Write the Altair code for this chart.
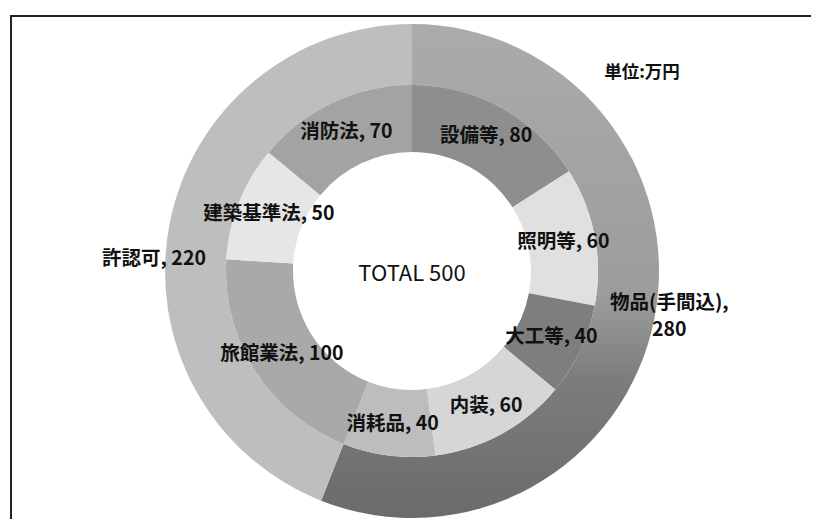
import altair as alt
import pandas as pd

# ---- data ----
outer_cats = ["物品(手間込)", "許認可"]
outer_vals = [280, 220]
inner_cats = ["設備等", "照明等", "大工等", "内装", "消耗品", "旅館業法", "建築基準法", "消防法"]
inner_vals = [80, 60, 40, 60, 40, 100, 50, 70]
total_label = "TOTAL 500"
unit_label = "単位:万円"

# ---- styles ----
inner_colors = ["#8e8e8e", "#e0e0e0", "#7e7e7e", "#d6d6d6", "#bdbdbd", "#a9a9a9", "#e6e6e6", "#a3a3a3"]
outer_light = "#bebebe"
outer_grad = {
    "gradient": "linear", "x1": 0, "y1": 0, "x2": 0, "y2": 1,
    "stops": [
        {"offset": 0.0, "color": "#ababab"},
        {"offset": 0.55, "color": "#9c9c9c"},
        {"offset": 0.72, "color": "#7c7c7c"},
        {"offset": 1.0, "color": "#6b6b6b"},
    ],
}
FONT = "Noto Sans CJK JP"
FS = 19.5
CX, CY = 404, 263

outer_df = pd.DataFrame({"cat": outer_cats, "value": outer_vals, "idx": range(len(outer_cats))})
outer_df["label"] = [f"{c},\n{v}" for c, v in zip(outer_cats, outer_vals)]
inner_df = pd.DataFrame({"cat": inner_cats, "value": inner_vals, "idx": range(len(inner_cats))})
inner_df["label"] = [f"{c}, {v}" for c, v in zip(inner_cats, inner_vals)]

theta = alt.Theta("value:Q", stack=True, scale=alt.Scale(domain=[0, sum(outer_vals)]))
order = alt.Order("idx:Q")
cx = alt.value(CX)
cy = alt.value(CY)

outer = alt.Chart(outer_df).mark_arc(radius=247, radius2=186).encode(
    theta=theta, order=order, x=cx, y=cy,
    color=alt.condition(alt.datum.cat == outer_cats[0], alt.value(outer_grad), alt.value(outer_light)),
)

inner = alt.Chart(inner_df).mark_arc(radius=186, radius2=119).encode(
    theta=theta, order=order, x=cx, y=cy,
    color=alt.Color("cat:N", scale=alt.Scale(domain=inner_cats, range=inner_colors), legend=None),
)

inner_text = alt.Chart(inner_df).mark_text(
    radius=154, font=FONT, fontSize=FS, fontWeight="bold", color="#111111"
).encode(theta=theta, order=order, x=cx, y=cy, text="label:N")

outer_text = alt.Chart(outer_df).transform_filter(alt.datum.idx == 0).mark_text(
    radius=262, font=FONT, fontSize=FS, fontWeight="bold", color="#111111",
    lineBreak="\n", lineHeight=27, dy=-17
).encode(theta=theta, order=order, x=cx, y=cy, text="label:N")

outer_text2 = alt.Chart(outer_df).transform_filter(alt.datum.idx == 1).transform_calculate(
    lab="datum.cat + ', ' + datum.value"
).mark_text(font=FONT, fontSize=FS, fontWeight="bold", color="#111111").encode(
    x=alt.value(146), y=alt.value(251), text="lab:N"
)

center = alt.Chart(pd.DataFrame({"t": [total_label]})).mark_text(
    font=FONT, fontSize=22, color="#111111"
).encode(x=cx, y=alt.value(CY + 3), text="t:N")

unit = alt.Chart(pd.DataFrame({"t": [unit_label]})).mark_text(
    font=FONT, fontSize=17.5, fontWeight="bold", color="#111111"
).encode(x=alt.value(634), y=alt.value(65), text="t:N")

frame = alt.Chart(pd.DataFrame({"a": [0]})).mark_rect(
    filled=False, stroke="#222222", strokeWidth=2
).encode(x=alt.value(3), x2=alt.value(830), y=alt.value(8), y2=alt.value(540))

chart = alt.layer(frame, outer, inner, inner_text, outer_text, outer_text2, center, unit).properties(
    width=803, height=511, autosize="none", padding=0
).configure_view(stroke=None)

chart.save("out.html", embed_options={"renderer": "svg", "actions": False})
